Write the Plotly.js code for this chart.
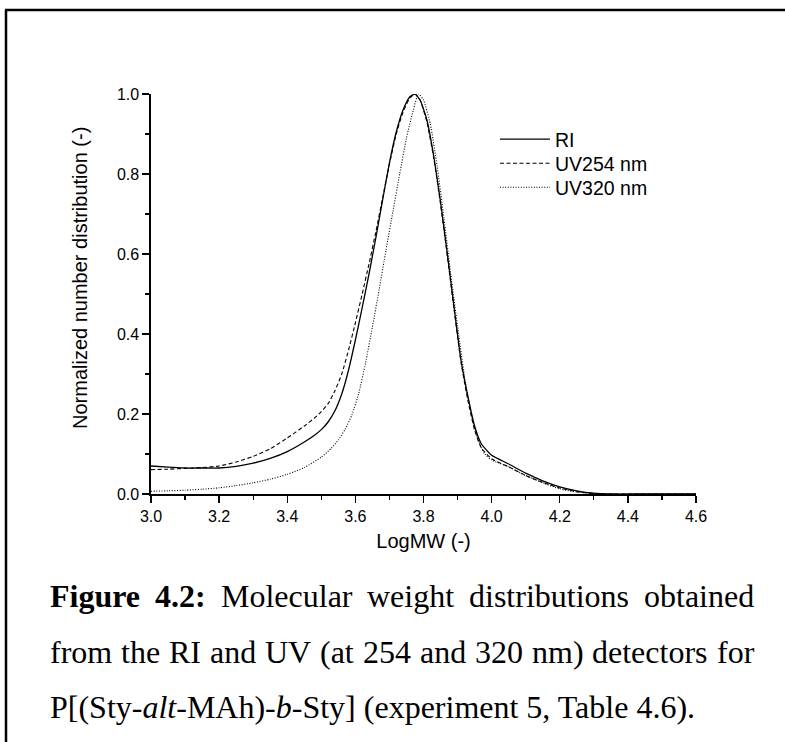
<!DOCTYPE html>
<html>
<head>
<meta charset="utf-8">
<script src="https://cdn.plot.ly/plotly-3.0.1.min.js"></script>
<style>
html,body{margin:0;padding:0;background:#fff;}
#chart{width:785px;height:742px;}
</style>
</head>
<body>
<div id="chart"></div>
<script>
// ---- data ----
const riX = [3.00,3.05,3.10,3.15,3.20,3.25,3.30,3.35,3.40,3.45,3.48,3.50,3.52,3.54,3.56,3.58,3.60,3.62,3.64,3.66,3.68,3.70,3.72,3.74,3.76,3.775,3.79,3.81,3.83,3.85,3.87,3.89,3.91,3.93,3.95,3.97,4.00,4.05,4.10,4.15,4.20,4.25,4.30,4.35,4.45,4.60];
const riY = [0.070,0.067,0.065,0.065,0.065,0.069,0.077,0.089,0.106,0.130,0.147,0.161,0.180,0.208,0.250,0.310,0.385,0.466,0.550,0.640,0.735,0.828,0.905,0.960,0.993,1.000,0.985,0.935,0.845,0.730,0.600,0.465,0.335,0.245,0.170,0.125,0.097,0.075,0.052,0.033,0.018,0.008,0.002,0.000,0.000,0.000];

const uv254X = [3.00,3.05,3.10,3.15,3.20,3.25,3.30,3.35,3.40,3.45,3.48,3.50,3.52,3.54,3.56,3.58,3.60,3.62,3.64,3.66,3.68,3.70,3.72,3.74,3.76,3.775,3.79,3.81,3.83,3.85,3.87,3.89,3.91,3.93,3.95,3.97,4.00,4.05,4.10,4.15,4.20,4.25,4.30,4.35,4.45,4.60];
const uv254Y = [0.061,0.062,0.064,0.066,0.070,0.080,0.094,0.113,0.140,0.170,0.190,0.206,0.226,0.258,0.300,0.360,0.428,0.500,0.575,0.655,0.740,0.825,0.900,0.955,0.990,1.000,0.985,0.930,0.840,0.725,0.595,0.460,0.330,0.235,0.160,0.115,0.088,0.068,0.046,0.029,0.015,0.006,0.001,0.000,0.000,0.000];

const uv320X = [3.00,3.05,3.10,3.15,3.20,3.25,3.30,3.35,3.40,3.45,3.50,3.53,3.55,3.57,3.59,3.61,3.63,3.65,3.67,3.69,3.71,3.73,3.75,3.77,3.785,3.80,3.82,3.84,3.86,3.88,3.90,3.92,3.94,3.96,3.98,4.00,4.05,4.10,4.15,4.20,4.25,4.30,4.35,4.45,4.60];
const uv320Y = [0.007,0.008,0.0095,0.012,0.0155,0.021,0.028,0.037,0.049,0.066,0.092,0.115,0.135,0.162,0.198,0.252,0.328,0.418,0.512,0.610,0.705,0.800,0.890,0.960,1.000,0.985,0.925,0.820,0.690,0.550,0.420,0.295,0.200,0.135,0.100,0.085,0.068,0.046,0.028,0.013,0.005,0.001,0.000,0.000,0.000];

const seriesNames = ['RI','UV254 nm','UV320 nm'];
const xTitle = 'LogMW (-)';
const yTitle = 'Normalized number distribution (-)';

const captionLines = [
  {words:['<b>Figure</b>','<b>4.2:</b>','Molecular','weight','distributions','obtained'], justify:true},
  {words:['from','the','RI','and','UV','(at','254','and','320','nm)','detectors','for'], justify:true},
  {words:['P[(Sty-<i>alt</i>-MAh)-<i>b</i>-Sty] (experiment 5, Table 4.6).'], justify:false}
];

// ---- layout geometry ----
const W = 785, H = 742;
const M = {l:151, r:89, t:94, b:248};
const PW = W - M.l - M.r, PH = H - M.t - M.b;
const px2x = p => (p - M.l) / PW;
const py2y = p => (H - M.b - p) / PH;

const sansFont = "'Liberation Sans', Arial, sans-serif";
const serifFont = "'Liberation Serif', 'Times New Roman', serif";
const capSize = 32;

const lineCommon = {color:'#000', shape:'spline', smoothing:0.5};
const traces = [
  {x:riX, y:riY, name:seriesNames[0], mode:'lines', legend:'legend', line:Object.assign({width:1.3, dash:'solid'}, lineCommon)},
  {x:uv254X, y:uv254Y, name:seriesNames[1], mode:'lines', legend:'legend2', line:Object.assign({width:1.1, dash:'4px,2.5px'}, lineCommon)},
  {x:uv320X, y:uv320Y, name:seriesNames[2], mode:'lines', legend:'legend3', line:Object.assign({width:1.1, dash:'1px,1.6px'}, lineCommon)}
];

// caption annotations (justified words)
const ctx = document.createElement('canvas').getContext('2d');
function measure(html){
  const bold = html.indexOf('<b>') >= 0;
  const plain = html.replace(/<[^>]+>/g,'');
  ctx.font = (bold ? 'bold ' : '') + capSize + 'px ' + serifFont;
  return ctx.measureText(plain).width;
}
const capLeft = 49, capRight = 753;
const capBaselines = [606, 662, 717];
const annotations = [];
captionLines.forEach((ln, i) => {
  const widths = ln.words.map(measure);
  const total = widths.reduce((a,b)=>a+b,0);
  ctx.font = capSize + 'px ' + serifFont;
  const spaceW = ctx.measureText(' ').width;
  const gap = (ln.justify && ln.words.length > 1) ? (capRight - capLeft - total) / (ln.words.length - 1) : spaceW;
  let xpos = capLeft;
  ln.words.forEach((w, j) => {
    annotations.push({
      text: w, xref:'paper', yref:'paper', x: px2x(xpos), y: py2y(capBaselines[i] - 10.5),
      xanchor:'left', yanchor:'middle', showarrow:false, borderpad:0,
      font:{family:serifFont, size:capSize, color:'#000'}
    });
    xpos += widths[j] + gap;
  });
});
// y-axis title
annotations.push({
  text: yTitle, xref:'paper', yref:'paper', x: px2x(80), y: py2y(278),
  xanchor:'center', yanchor:'middle', textangle:-90, showarrow:false,
  font:{family:sansFont, size:20, color:'#000'}
});

const axCommon = {showgrid:false, zeroline:false, showline:true, linecolor:'#000', linewidth:1.6,
  tickcolor:'#000', tickwidth:1.3, tickfont:{family:sansFont, size:16, color:'#000'}};

function legendAt(topPx){
  return {x:px2x(495), y:py2y(topPx), xanchor:'left', yanchor:'top', bgcolor:'rgba(0,0,0,0)',
    font:{family:sansFont, size:19.5, color:'#000'}, itemwidth:50};
}

const layout = {
  width:W, height:H, margin:M, paper_bgcolor:'#fff', plot_bgcolor:'#fff',
  font:{family:sansFont, color:'#000'},
  showlegend:true,
  legend:legendAt(120),
  legend2:legendAt(144),
  legend3:legendAt(168),
  xaxis:Object.assign({}, axCommon, {range:[3.0,4.6], autorange:false, tick0:3.0, dtick:0.2, tickformat:'.1f',
    ticks:'outside', ticklen:7,
    minor:{dtick:0.1, tick0:3.0, ticks:'outside', ticklen:4, tickwidth:1.2, tickcolor:'#000', showgrid:false},
    title:{text:xTitle, font:{family:sansFont, size:20, color:'#000'}, standoff:10}}),
  yaxis:Object.assign({}, axCommon, {range:[0,1], autorange:false, tick0:0, dtick:0.2, tickformat:'.1f',
    ticks:'outside', ticklen:7,
    minor:{dtick:0.1, tick0:0, ticks:'outside', ticklen:4, tickwidth:1.2, tickcolor:'#000', showgrid:false}}),
  xaxis2:Object.assign({}, axCommon, {overlaying:'x', side:'top', anchor:'y', range:[3.0,4.6], autorange:false,
    tick0:3.0, dtick:0.1, ticks:'inside', ticklen:3, showticklabels:false}),
  yaxis2:Object.assign({}, axCommon, {overlaying:'y', side:'right', anchor:'x', range:[0,1], autorange:false,
    tick0:0, dtick:0.1, ticks:'inside', ticklen:3, showticklabels:false}),
  shapes:[
    {type:'line', xref:'paper', yref:'paper', x0:px2x(6), x1:px2x(6), y0:py2y(10), y1:py2y(H+2), line:{color:'#000', width:2.5}},
    {type:'line', xref:'paper', yref:'paper', x0:px2x(5), x1:px2x(W+2), y0:py2y(10), y1:py2y(10), line:{color:'#000', width:2.5}}
  ],
  annotations:annotations
};

Plotly.newPlot('chart', traces, layout, {displayModeBar:false, staticPlot:true});
</script>
</body>
</html>
